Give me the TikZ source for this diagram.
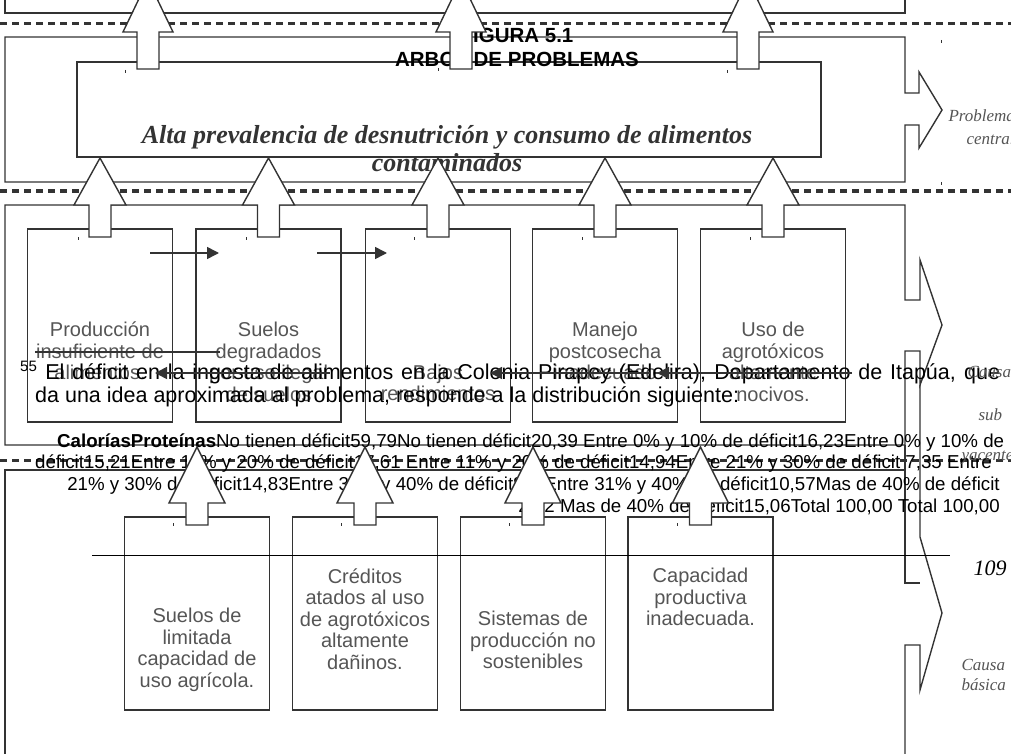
\documentclass[tikz,border=0pt]{standalone}
\usepackage{fontspec}
\setmainfont{Liberation Sans}
\newfontfamily\serifit{Liberation Serif}
\usetikzlibrary{arrows.meta}

\definecolor{linegray}{HTML}{333333}
\definecolor{txtgray}{HTML}{555555}

\tikzset{
  layerframe/.style={draw=linegray, line width=1.4pt},
  layerline/.style={draw=linegray, line width=3pt, dash pattern=on 7pt off 5pt},
  causebox/.style={draw=linegray, line width=1.4pt, minimum width=145pt, minimum height=193pt, inner sep=0pt},
  blockarrow/.style={draw=linegray, fill=white, line width=1.4pt, line join=miter},
  boxtext/.style={text=txtgray, font=\fontsize{20}{21.5}\selectfont, align=center},
  linkarrow/.style={draw=linegray, line width=1.6pt, -{Triangle[length=12pt,width=12pt]}},
  sidelabel/.style={text=txtgray, font=\serifit\itshape\fontsize{17}{20}\selectfont},
  tablerow/.style={font=\fontsize{18.7}{21}\selectfont, inner sep=0pt},
  notetext/.style={font=\fontsize{21.5}{23}\selectfont, anchor=base west, inner sep=0pt},
  tick/.style={draw=linegray, line width=0.8pt},
}

\begin{document}
\begin{tikzpicture}[x=1pt,y=-1pt]
\useasboundingbox (0,0) rectangle (1011,754);

% franjas del arbol
\draw[layerframe] (5,0) -- (5,13) -- (905,13) -- (905,0);
\foreach \y in {24,191,460}
  \draw[layerline] (0,\y) -- (1011,\y);

\draw[layerframe] (5,37) -- (905,37) -- (905,93) -- (919,93) -- (919,72) -- (942,110)
  -- (919,148) -- (919,125) -- (905,125) -- (905,182) -- (5,182) -- cycle;
\draw[layerframe] (5,205) -- (905,205) -- (905,300) -- (920,300) -- (920,260) -- (942,325)
  -- (920,385) -- (920,351) -- (905,351) -- (905,445) -- (5,445) -- cycle;
\draw[layerframe] (920,385) -- (920,537) -- (942,613) -- (920,690) -- (920,645)
  -- (905,645) -- (905,754);
\draw[layerframe] (905,445) -- (905,583) -- (920,583);
\draw[layerframe] (5,754) -- (5,470) -- (905,470);

% problema central
\node[causebox, minimum width=744pt, minimum height=95pt] (central) at (449,109.5) {};
\node[font=\bfseries\fontsize{20.5}{24}\selectfont, align=center] (title) at (517,47) {FIGURA 5.1\\ARBOL DE PROBLEMAS};
\node[text=linegray, font=\serifit\bfseries\itshape\fontsize{26}{28}\selectfont, align=center] (ptext) at (447,149)
  {Alta prevalencia de desnutrición y consumo de alimentos\\contaminados};

% causas subyacentes
\foreach \n/\x in {c1/100,c2/268.5,c3/438,c4/605,c5/773}
  \node[causebox] (\n) at (\x,325.5) {};
\node[boxtext] (t1) at (100,351) {Producción\\insuficiente de\\alimentos.};
\node[boxtext] (t2) at (268.5,362) {Suelos\\degradados\\por uso ilegal\\de suelos};
\node[boxtext] (t3) at (438,383) {Bajos\\rendimientos};
\node[boxtext] (t4) at (605,351) {Manejo\\postcosecha\\inadecuado};
\node[boxtext] (t5) at (773,362) {Uso de\\agrotóxicos\\altamente\\nocivos.};

% causas basicas
\foreach \n/\x in {b1/197,b2/365,b3/533,b4/700.5}
  \node[causebox] (\n) at (\x,613.5) {};
\node[boxtext] (s1) at (197,650) {Suelos de\\limitada\\capacidad de\\uso agrícola.};
\node[boxtext] (s2) at (365,619) {Créditos\\atados al uso\\de agrotóxicos\\altamente\\dañinos.};
\node[boxtext] (s3) at (533,640) {Sistemas de\\producción no\\sostenibles};
\node[boxtext] (s4) at (700.5,597) {Capacidad\\productiva\\inadecuada.};

% texto de la pagina
\node[notetext] (nota1) at (20,379)
  {\makebox[980pt][s]{\textsuperscript{55} El déficit en la ingesta de alimentos en la Colonia Pirapey (Edelira), Departamento de Itapúa, que}};
\node[notetext] (nota2) at (35,402)
  {da una idea aproximada al problema, responde a la distribución siguiente:};
\node[tablerow, anchor=base west] (row1) at (57,447)
  {\textbf{CaloríasProteínas}No tienen déficit59,79No tienen déficit20,39 Entre 0\% y 10\% de déficit16,23Entre 0\% y 10\% de};
\node[tablerow, anchor=base west] (row2) at (35,468)
  {déficit15,21Entre 11\% y 20\% de déficit17,61 Entre 11\% y 20\% de déficit14,94Entre 21\% y 30\% de déficit 7,35 Entre};
\node[tablerow, anchor=base east] (row3) at (1000,490)
  {21\% y 30\% de déficit14,83Entre 31\% y 40\% de déficit8,6 Entre 31\% y 40\% de déficit10,57Mas de 40\% de déficit};
\node[tablerow, anchor=base east] (row4) at (1000,512)
  {2,22 Mas de 40\% de déficit15,06Total 100,00 Total 100,00};

\draw[line width=1pt] (92,555) -- (950,555);
\node[font=\serifit\itshape\fontsize{22}{26}\selectfont, anchor=west] (pnum) at (970,568) {109};

% etiquetas a la derecha
\node[sidelabel, anchor=west] (lprob) at (945,116) {Problema};
\node[sidelabel, anchor=west] (lcen) at (963,139) {central};
\node[sidelabel, anchor=west] (lcau) at (964,372) {Causas};
\node[sidelabel, anchor=west] (lsub) at (975,415) {sub};
\node[sidelabel, anchor=west] (lyac) at (958,458) {yacentes};
\node[sidelabel, align=left, anchor=west] (lbas) at (958,675) {Causa\\básica};

% flechas de bloque
\foreach \x in {148,461,748}
  \draw[blockarrow] (\x-11,69) -- (\x-11,32) -- (\x-25,32) -- (\x,-20) -- (\x+25,32) -- (\x+11,32) -- (\x+11,69) -- cycle;
\foreach \x in {100,268.5,438,605,773}
  \draw[blockarrow] (\x-11,237) -- (\x-11,205) -- (\x-26,205) -- (\x,158) -- (\x+26,205) -- (\x+11,205) -- (\x+11,237) -- cycle;
\foreach \x in {197,365,533,700.5}
  \draw[blockarrow] (\x-11,525) -- (\x-11,503) -- (\x-28,503) -- (\x,447) -- (\x+28,503) -- (\x+11,503) -- (\x+11,525) -- cycle;

% flechas entre causas
\coordinate (r1a) at (150,253);
\coordinate (r1b) at (219,253);
\coordinate (r2a) at (317,253);
\coordinate (r2b) at (387,253);
\coordinate (l1a) at (330,373);
\coordinate (l1b) at (155,373);
\coordinate (l2a) at (650,373);
\coordinate (l2b) at (490,373);
\coordinate (l3a) at (852,373);
\coordinate (l3b) at (657,373);
\coordinate (m1a) at (35,352);
\coordinate (m1b) at (220,352);
\draw[linkarrow] (r1a) -- (r1b);
\draw[linkarrow] (r2a) -- (r2b);
\draw[linkarrow] (l1a) -- (l1b);
\draw[linkarrow] (l2a) -- (l2b);
\draw[linkarrow] (l3a) -- (l3b);
\draw[draw=linegray, line width=1.6pt] (m1a) -- (m1b);

% marcas pequenas
\foreach \x/\y in {125/70,438/68,727/70,78/237,246/237,414/237,582/237,750/237,173/523,341/523,509/523,677/523,941/182,941/40}
  \draw[tick] (\x,\y) -- (\x,\y+3);
\end{tikzpicture}
\end{document}
